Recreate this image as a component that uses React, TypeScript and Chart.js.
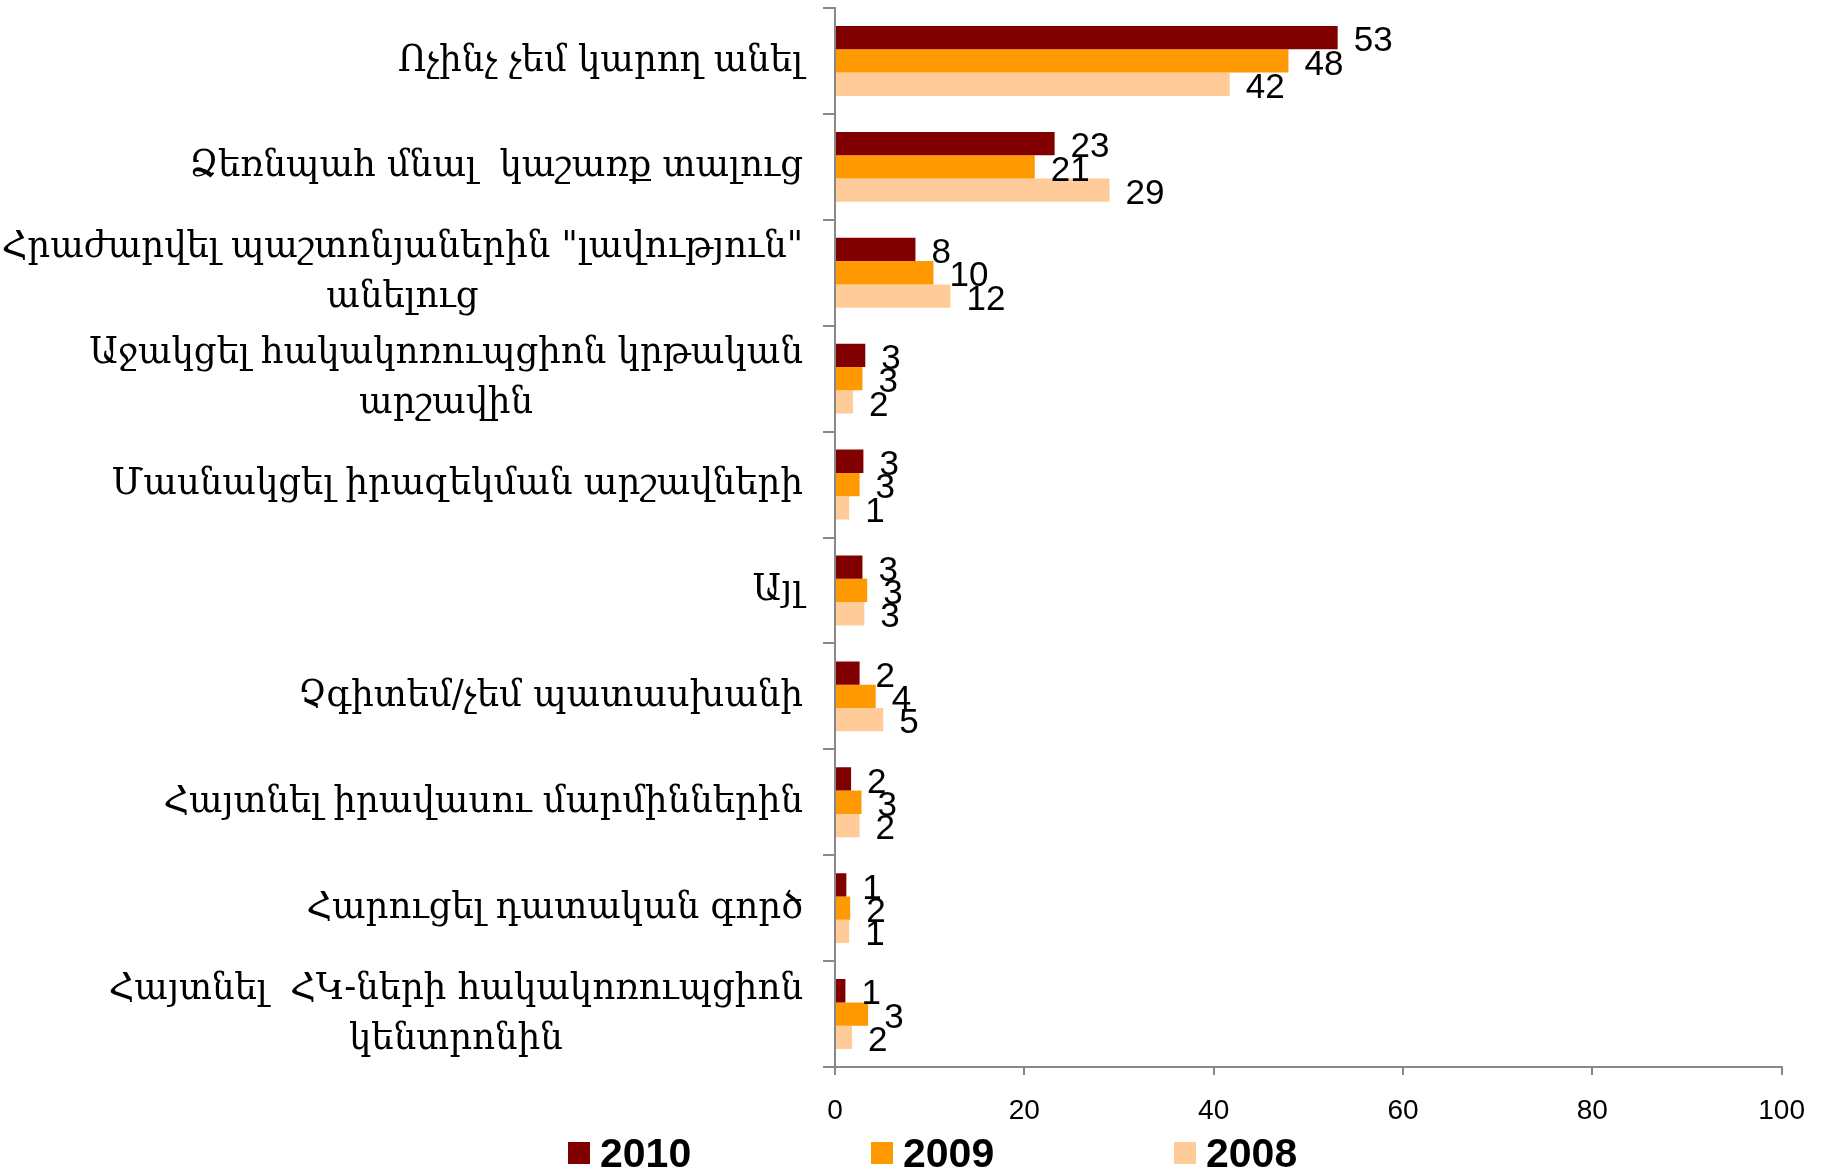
import React, { useEffect, useRef } from "react";
import { Chart, registerables } from "chart.js";

Chart.register(...registerables);

// ---- data ----
const categories: string[][] = [
  ["Ոչինչ չեմ կարող անել"],
  ["Ձեռնպահ մնալ  կաշառք տալուց"],
  ["Հրաժարվել պաշտոնյաներին \"լավություն\"", "անելուց"],
  ["Աջակցել հակակոռուպցիոն կրթական", "արշավին"],
  ["Մասնակցել իրազեկման արշավների"],
  ["Այլ"],
  ["Չգիտեմ/չեմ պատասխանի"],
  ["Հայտնել իրավասու մարմիններին"],
  ["Հարուցել դատական գործ"],
  ["Հայտնել  ՀԿ-ների հակակոռուպցիոն", "կենտրոնին"],
];

const seriesNames = ["2010", "2009", "2008"];
const seriesColors = ["#800000", "#FF9900", "#FFCC99"];

const values2010 = [53.1, 23.2, 8.5, 3.2, 3.0, 2.9, 2.6, 1.7, 1.2, 1.1];
const values2009 = [47.9, 21.1, 10.4, 2.9, 2.6, 3.4, 4.3, 2.8, 1.6, 3.5];
const values2008 = [41.7, 29.0, 12.2, 1.9, 1.5, 3.1, 5.1, 2.6, 1.5, 1.8];

const labels2010 = ["53", "23", "8", "3", "3", "3", "2", "2", "1", "1"];
const labels2009 = ["48", "21", "10", "3", "3", "3", "4", "3", "2", "3"];
const labels2008 = ["42", "29", "12", "2", "1", "3", "5", "2", "1", "2"];

const xTicks = [0, 20, 40, 60, 80, 100];

const seriesValues = [values2010, values2009, values2008];
const seriesLabels = [labels2010, labels2009, labels2008];

const ARM_FONT = "'DejaVu Serif Condensed', 'DejaVu Serif', serif";
const SANS = "'Liberation Sans', Arial, sans-serif";

const yLabelPlugin = {
  id: "yLabelPlugin",
  afterDraw(chart: any) {
    const ctx = chart.ctx as CanvasRenderingContext2D;
    const y = chart.scales.y;
    ctx.save();
    const size = 37;
    ctx.font = `${size}px ${ARM_FONT}`;
    const ref = ctx.measureText(categories[0][0]).width;
    const sx = 405 / ref;
    ctx.fillStyle = "#000";
    ctx.textAlign = "center";
    ctx.textBaseline = "middle";
    const right = y.right - 32;
    const lineH = 50;
    categories.forEach((lines, i) => {
      const cy = y.getPixelForValue(i);
      const w = Math.max(...lines.map((l) => ctx.measureText(l).width)) * sx;
      const cx = right - w / 2;
      lines.forEach((l, j) => {
        ctx.save();
        ctx.translate(cx, cy + (j - (lines.length - 1) / 2) * lineH);
        ctx.scale(sx, 1);
        ctx.fillText(l, 0, 0);
        ctx.restore();
      });
    });
    ctx.restore();
  },
};

const valueLabelPlugin = {
  id: "valueLabelPlugin",
  afterDatasetsDraw(chart: any) {
    const ctx = chart.ctx as CanvasRenderingContext2D;
    ctx.save();
    ctx.font = `35px ${SANS}`;
    ctx.fillStyle = "#000";
    ctx.textAlign = "left";
    ctx.textBaseline = "middle";
    chart.data.datasets.forEach((ds: any, di: number) => {
      const meta = chart.getDatasetMeta(di);
      meta.data.forEach((el: any, i: number) => {
        ctx.fillText(seriesLabels[di][i], el.x + 16, el.y + 4);
      });
    });
    ctx.restore();
  },
};

const legendPlugin = {
  id: "customLegend",
  afterDraw(chart: any) {
    const ctx = chart.ctx as CanvasRenderingContext2D;
    ctx.save();
    ctx.font = `bold 41px ${SANS}`;
    ctx.textAlign = "left";
    ctx.textBaseline = "alphabetic";
    const startX = 568;
    const step = 303;
    seriesNames.forEach((name, i) => {
      const x = startX + i * step;
      ctx.fillStyle = seriesColors[i];
      ctx.fillRect(x, 1142, 22, 22);
      ctx.fillStyle = "#000";
      ctx.fillText(name, x + 32, 1167);
    });
    ctx.restore();
  },
};

export default function App() {
  const ref = useRef<HTMLCanvasElement | null>(null);
  useEffect(() => {
    if (!ref.current) return;
    const chart = new Chart(ref.current, {
      type: "bar",
      data: {
        labels: categories.map((c) => c.join(" ")),
        datasets: seriesNames.map((name, i) => ({
          label: name,
          data: seriesValues[i],
          backgroundColor: seriesColors[i],
          borderWidth: 0,
          categoryPercentage: 0.66,
          barPercentage: 1.0,
        })),
      },
      options: {
        indexAxis: "y",
        animation: false,
        responsive: false,
        devicePixelRatio: 1,
        layout: { padding: { top: 8, right: 42, left: 0, bottom: 0 } },
        plugins: { legend: { display: false }, tooltip: { enabled: false } },
        scales: {
          x: {
            min: 0,
            max: 100,
            afterBuildTicks: (s: any) => {
              s.ticks = xTicks.map((v) => ({ value: v }));
            },
            ticks: { font: { size: 28, family: SANS }, color: "#000", padding: 19 },
            grid: { drawOnChartArea: false, drawTicks: true, tickLength: 8, color: "#888888", lineWidth: 2 },
            border: { color: "#888888", width: 2 },
            afterFit: (s: any) => {
              s.height = 104;
            },
          },
          y: {
            ticks: { display: false },
            grid: { drawOnChartArea: false, drawTicks: true, tickLength: 12, color: "#888888", lineWidth: 2, offset: true },
            border: { color: "#888888", width: 2 },
            afterFit: (s: any) => {
              s.width = 835;
            },
          },
        },
      } as any,
      plugins: [valueLabelPlugin, yLabelPlugin, legendPlugin],
    });
    return () => chart.destroy();
  }, []);
  return (
    <div style={{ position: "fixed", left: 0, top: 0, width: 1824, height: 1171, background: "#fff" }}>
      <canvas ref={ref} width={1824} height={1171} style={{ width: 1824, height: 1171 }} />
    </div>
  );
}
